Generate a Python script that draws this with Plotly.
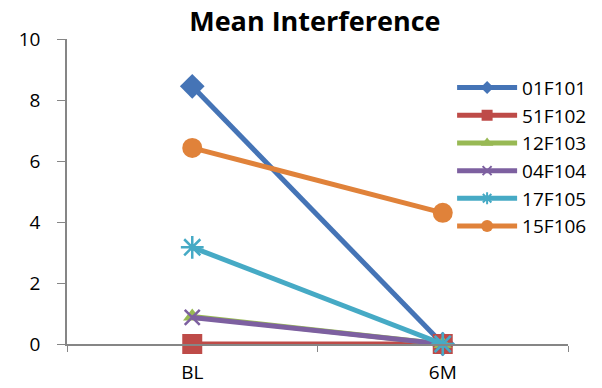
import plotly.graph_objects as go

categories = ["BL", "6M"]
series_names = ["01F101", "51F102", "12F103", "04F104", "17F105", "15F106"]
v01F101 = [8.45, 0.0]
v51F102 = [0.0, 0.0]
v12F103 = [0.9, 0.0]
v04F104 = [0.87, 0.0]
v17F105 = [3.17, 0.0]
v15F106 = [6.43, 4.3]
yticks = [0, 2, 4, 6, 8, 10]

values = [v01F101, v51F102, v12F103, v04F104, v17F105, v15F106]
colors = ["#4574B6", "#BE4B48", "#98B954", "#7D60A0", "#46AAC5", "#E0823A"]
symbols = ["diamond", "square", "triangle-up", "x-thin-open", "asterisk-open", "circle"]
sizes = [19, 20, 16, 15, 19, 20]
leg_sizes = [10, 11, 11, 9, 10, 12]

fig = go.Figure()
for name, vals, c, s, sz in zip(series_names, values, colors, symbols, sizes):
    marker = dict(symbol=s, size=sz, color=c)
    if s.endswith("open"):
        marker["line"] = dict(color=c, width=2.5)
    fig.add_trace(go.Scatter(x=categories, y=vals, name=name, mode="lines+markers",
                             line=dict(color=c, width=5), marker=marker, showlegend=False,
                             cliponaxis=False))
for name, c, s, sz in zip(series_names, colors, symbols, leg_sizes):
    marker = dict(symbol=s, size=sz, color=c)
    if s.endswith("open"):
        marker["line"] = dict(color=c, width=2)
    fig.add_trace(go.Scatter(x=[None], y=[None], name=name, mode="lines+markers",
                             line=dict(color=c, width=5), marker=marker, showlegend=True))

font = "Open Sans, Liberation Sans, sans-serif"
fig.update_layout(
    width=602, height=388,
    margin=dict(l=67, r=34, t=39, b=44, autoexpand=False),
    paper_bgcolor="white", plot_bgcolor="white",
    font=dict(family=font, size=19, color="black"),
    title=dict(text="<b>Mean Interference</b>", x=0.523, xanchor="center", y=0.945, yanchor="middle",
               font=dict(size=27, family=font)),
    showlegend=True,
    legend=dict(xref="container", yref="container", x=0.751, y=0.823, xanchor="left", yanchor="top",
                font=dict(size=19), bgcolor="rgba(0,0,0,0)", tracegroupgap=0, itemwidth=60),
    xaxis=dict(type="category", range=[-0.5, 1.5], showline=True, linecolor="#868686", linewidth=1.5,
               ticks="outside", tickson="boundaries", ticklen=6, tickcolor="#868686",
               showgrid=False, zeroline=False, tickfont=dict(size=19), ticklabelstandoff=10,
               automargin=False),
    yaxis=dict(range=[0, 10], tickvals=yticks, showline=True, linecolor="#868686", linewidth=1.5,
               ticks="outside", ticklen=8, tickcolor="#868686", showgrid=False, zeroline=False,
               tickfont=dict(size=19), ticklabelstandoff=13, automargin=False),
)
fig.write_html("out.html")
